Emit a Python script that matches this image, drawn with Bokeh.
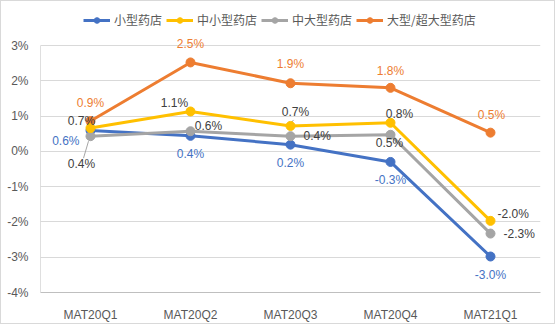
from bokeh.plotting import figure
from bokeh.models import (FactorRange, Range1d, ColumnDataSource, Legend, LegendItem,
                          FixedTicker, CustomJSTickFormatter)
from bokeh.core.properties import value
from bokeh.embed import file_html
from bokeh.resources import INLINE

# ---- data ----
quarters = ["MAT20Q1", "MAT20Q2", "MAT20Q3", "MAT20Q4", "MAT21Q1"]
series_names = ["小型药店", "中小型药店", "中大型药店", "大型/超大型药店"]
small = [0.59, 0.44, 0.19, -0.30, -2.98]
mid_small = [0.66, 1.13, 0.72, 0.81, -1.97]
mid_large = [0.43, 0.57, 0.43, 0.47, -2.33]
large = [0.86, 2.52, 1.93, 1.80, 0.53]
y_ticks = [-4, -3, -2, -1, 0, 1, 2, 3]

# ---- styles / layout ----
colors = ["#4472C4", "#FFC000", "#A5A5A5", "#ED7D31"]
label_colors = ["#4472C4", "#404040", "#404040", "#ED7D31"]
# (dx, dy, align) screen offsets of the data labels
offsets = [
    [(-11, 10, "right"), (0, 18, "center"), (0, 18, "center"), (0, 18, "center"), (0, 18, "center")],
    [(-9, -7, "center"), (-16, -8, "center"), (5, -14, "center"), (9, -9, "center"), (7, -7, "left")],
    [(-9, 28, "center"), (18, -5, "center"), (13, 0, "left"), (-1, 8, "center"), (13, 0, "left")],
    [(0, -18, "center"), (0, -18, "center"), (0, -19, "center"), (0, -17, "center"), (1, -18, "center")],
]
# leader lines: (series, category index, start px offset (dx,dy), end px offset (dx,dy)), screen-down dy
leaders = [(2, 0, (-7, 22), (-2, 5)), (1, 2, (3, -6), (0, -2))]

W, H = 555, 324
LEFT, RIGHT = 39, 16
TOP = 4            # frame starts near the top so labels/legend are not clipped
AX_TOP_PX = 44     # pixel row of the top gridline
BOTTOM_PX = 291
px_per_unit = (BOTTOM_PX - AX_TOP_PX) / (y_ticks[-1] - y_ticks[0])
px_per_cat = (W - LEFT - RIGHT) / len(quarters)
y_end = y_ticks[-1] + (AX_TOP_PX - TOP) / px_per_unit

p = figure(width=W, height=H, x_range=FactorRange(*quarters, range_padding=0),
           y_range=Range1d(y_ticks[0], y_end), output_backend="svg", toolbar_location=None,
           min_border_left=LEFT, min_border_right=RIGHT, min_border_top=TOP,
           min_border_bottom=H - BOTTOM_PX)
p.outline_line_color = None
p.background_fill_color = "white"
p.border_fill_color = "white"
p.styles = {"border": "1px solid #D9D9D9", "box-sizing": "border-box"}

p.yaxis.ticker = FixedTicker(ticks=y_ticks)
p.yaxis.formatter = CustomJSTickFormatter(code="return tick.toFixed(0) + '%';")
for ax in (p.xaxis, p.yaxis):
    ax.major_tick_line_color = None
    ax.minor_tick_line_color = None
    ax.major_label_text_font = "Liberation Sans"
    ax.major_label_text_font_size = "12px"
    ax.major_label_text_color = "#595959"
    ax.axis_line_width = 1
p.xaxis.axis_line_color = "#BFBFBF"
p.yaxis.axis_line_color = None
p.yaxis.major_label_standoff = 6
p.xaxis.major_label_standoff = 9
p.xgrid.grid_line_color = None
p.ygrid.grid_line_color = "#D9D9D9"
p.ygrid.ticker = FixedTicker(ticks=y_ticks)

# y axis line only from bottom to top tick
ax_src = ColumnDataSource(dict(x0=[(quarters[0], -0.5)], y0=[y_ticks[0]],
                               x1=[(quarters[0], -0.5)], y1=[y_ticks[-1]]))
p.segment("x0", "y0", "x1", "y1", source=ax_src, line_color="#BFBFBF", line_width=1)

all_vals = [small, mid_small, mid_large, large]

# leader lines from labels to their points
ld = dict(x0=[], y0=[], x1=[], y1=[])
for s, k, (sx, sy), (ex, ey) in leaders:
    v = all_vals[s][k]
    ld["x0"].append((quarters[k], sx / px_per_cat))
    ld["y0"].append(v - sy / px_per_unit)
    ld["x1"].append((quarters[k], ex / px_per_cat))
    ld["y1"].append(v - ey / px_per_unit)
p.segment("x0", "y0", "x1", "y1", source=ColumnDataSource(ld), line_color="#A6A6A6", line_width=1)

renderers = {}
draw_order = [3, 0, 2, 1]
for i in draw_order:
    vals = all_vals[i]
    src = ColumnDataSource(dict(x=quarters, y=vals))
    l = p.line("x", "y", source=src, line_color=colors[i], line_width=3)
    c = p.scatter("x", "y", source=src, size=9, fill_color=colors[i], line_color=colors[i])
    renderers[i] = [l, c]

for i in range(4):
    vals = all_vals[i]
    lab = ColumnDataSource(dict(
        x=quarters, y=vals,
        t=["%.1f%%" % v for v in vals],
        dx=[o[0] for o in offsets[i]],
        dy=[o[1] for o in offsets[i]],
        al=[o[2] for o in offsets[i]],
    ))
    p.text("x", "y", text="t", source=lab, x_offset="dx", y_offset="dy", text_align="al",
           text_baseline="middle", text_font=value("Liberation Sans"),
           text_font_size="12px", text_color=label_colors[i])

items = [LegendItem(label=series_names[i], renderers=renderers[i]) for i in range(4)]
legend = Legend(items=items, orientation="horizontal", location=(43, 264),
                glyph_width=27, glyph_height=14, label_standoff=4, spacing=4,
                padding=0, margin=0, border_line_color=None, background_fill_alpha=0,
                label_text_font="Noto Sans CJK SC", label_text_font_size="12px",
                label_text_color="#595959")
p.add_layout(legend, "center")

open("out.html", "w").write(file_html(p, INLINE))
